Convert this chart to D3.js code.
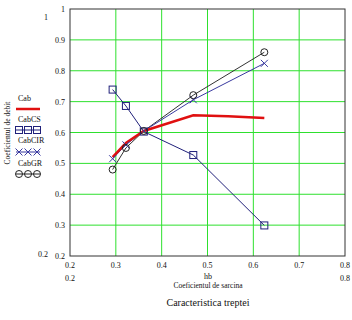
<!DOCTYPE html>
<html>
<head>
<meta charset="utf-8">
<script src="https://cdn.jsdelivr.net/npm/d3@7"></script>
<style>
  body { margin: 0; background: #fff; }
</style>
</head>
<body>
<div id="chart"></div>
<script>
// data
const hb = [0.293, 0.322, 0.361, 0.469, 0.545, 0.624];
const cab = [0.52, 0.566, 0.605, 0.656, 0.653, 0.647];
const hbPts = [0.293, 0.322, 0.361, 0.469, 0.624];
const cabCS = [0.739, 0.686, 0.603, 0.527, 0.299];
const cabCIR = [0.515, 0.56, 0.605, 0.706, 0.824];
const cabGR = [0.48, 0.55, 0.605, 0.721, 0.86];
const xTicks = [0.2, 0.3, 0.4, 0.5, 0.6, 0.7, 0.8];
const yTicks = [0.2, 0.3, 0.4, 0.5, 0.6, 0.7, 0.8, 0.9, 1];

const width = 352;
const height = 320;
const plot = { left: 70, right: 345, top: 9, bottom: 256 };
const serif = "'Liberation Serif', 'DejaVu Serif', serif";

const svg = d3.select("#chart")
  .append("svg")
  .attr("width", width)
  .attr("height", height)
  .attr("font-family", serif);

const x = d3.scaleLinear().domain([0.2, 0.8]).range([plot.left, plot.right]);
const y = d3.scaleLinear().domain([0.2, 1]).range([plot.bottom, plot.top]);

// little helper for the many text labels
function label(px, py, str, size, anchor) {
  return svg.append("text")
    .attr("x", px).attr("y", py)
    .attr("text-anchor", anchor || "start")
    .attr("font-size", size)
    .attr("font-family", serif)
    .attr("fill", "#111")
    .text(str);
}

// grid
svg.append("g")
  .selectAll("line")
  .data(xTicks.slice(1, -1))
  .enter().append("line")
  .attr("x1", d => x(d)).attr("x2", d => x(d))
  .attr("y1", plot.top).attr("y2", plot.bottom)
  .attr("stroke", "#2ee02e").attr("stroke-width", 1);

svg.append("g")
  .selectAll("line")
  .data(yTicks.slice(1, -1))
  .enter().append("line")
  .attr("x1", plot.left).attr("x2", plot.right)
  .attr("y1", d => y(d)).attr("y2", d => y(d))
  .attr("stroke", "#2ee02e").attr("stroke-width", 1);

// frame
svg.append("rect")
  .attr("x", plot.left).attr("y", plot.top)
  .attr("width", plot.right - plot.left).attr("height", plot.bottom - plot.top)
  .attr("fill", "none").attr("stroke", "#333").attr("stroke-width", 1);

// tick labels
yTicks.forEach(d => label(65, y(d) + 3, d === 1 ? "1" : d.toFixed(1), 8, "end"));
xTicks.forEach(d => label(x(d), 268, d.toFixed(1), 8, "middle"));

// axis limit labels
label(48, 20, "1", 8, "end");
label(48, y(0.2) + 1, "0.2", 8, "end");
label(x(0.2), 281, "0.2", 8, "middle");
label(x(0.8), 281, "0.8", 8, "middle");

// axis titles
label(208, 279, "hb", 8, "middle");
label(208, 288, "Coeficientul de sarcina", 7.5, "middle");
label(208, 306, "Caracteristica treptei", 10, "middle");
label(0, 0, "Coeficientul de debit", 7.5, "middle")
  .attr("transform", "translate(10,133) rotate(-90)");

// series lines
const line = d3.line().x(d => x(d[0])).y(d => y(d[1]));

svg.append("path")
  .datum(hbPts.map((h, i) => [h, cabGR[i]]))
  .attr("d", line).attr("fill", "none").attr("stroke", "#333").attr("stroke-width", 1);
svg.append("path")
  .datum(hbPts.map((h, i) => [h, cabCIR[i]]))
  .attr("d", line).attr("fill", "none").attr("stroke", "#3a3aa0").attr("stroke-width", 1);
svg.append("path")
  .datum(hbPts.map((h, i) => [h, cabCS[i]]))
  .attr("d", line).attr("fill", "none").attr("stroke", "#20207a").attr("stroke-width", 1);
svg.append("path")
  .datum(hb.map((h, i) => [h, cab[i]]))
  .attr("d", line).attr("fill", "none").attr("stroke", "#e01010").attr("stroke-width", 2.5);

// markers
const xMark = "M-3.5,-3.5L3.5,3.5M-3.5,3.5L3.5,-3.5";

svg.append("g").selectAll("rect")
  .data(hbPts.map((h, i) => [h, cabCS[i]]))
  .enter().append("rect")
  .attr("x", d => x(d[0]) - 3.5).attr("y", d => y(d[1]) - 3.5)
  .attr("width", 7).attr("height", 7)
  .attr("fill", "none").attr("stroke", "#20207a").attr("stroke-width", 1);

svg.append("g").selectAll("path")
  .data(hbPts.map((h, i) => [h, cabCIR[i]]))
  .enter().append("path")
  .attr("transform", d => `translate(${x(d[0])},${y(d[1])})`)
  .attr("d", xMark)
  .attr("fill", "none").attr("stroke", "#3a3aa0").attr("stroke-width", 1);

svg.append("g").selectAll("circle")
  .data(hbPts.map((h, i) => [h, cabGR[i]]))
  .enter().append("circle")
  .attr("cx", d => x(d[0])).attr("cy", d => y(d[1]))
  .attr("r", 3.5)
  .attr("fill", "none").attr("stroke", "#222").attr("stroke-width", 1);

// legend
const legend = svg.append("g");
const lx = [19, 28, 37];
label(18, 101, "Cab", 8);
legend.append("line").attr("x1", 16).attr("x2", 40).attr("y1", 109).attr("y2", 109)
  .attr("stroke", "#e01010").attr("stroke-width", 2.5);
label(18, 122, "CabCS", 8);
legend.append("line").attr("x1", 16).attr("x2", 40).attr("y1", 130).attr("y2", 130)
  .attr("stroke", "#20207a").attr("stroke-width", 1);
legend.selectAll(".lsq").data(lx).enter().append("rect")
  .attr("x", d => d - 3.5).attr("y", 126.5).attr("width", 7).attr("height", 7)
  .attr("fill", "none").attr("stroke", "#20207a");
label(18, 143, "CabCIR", 8);
legend.append("line").attr("x1", 16).attr("x2", 40).attr("y1", 152).attr("y2", 152)
  .attr("stroke", "#3a3aa0").attr("stroke-width", 1);
legend.selectAll(".lx").data(lx).enter().append("path")
  .attr("transform", d => `translate(${d},152)`)
  .attr("d", xMark)
  .attr("stroke", "#3a3aa0");
label(18, 166, "CabGR", 8);
legend.append("line").attr("x1", 16).attr("x2", 40).attr("y1", 174).attr("y2", 174)
  .attr("stroke", "#222").attr("stroke-width", 1);
legend.selectAll(".lc").data(lx).enter().append("circle")
  .attr("cx", d => d).attr("cy", 174).attr("r", 3.5)
  .attr("fill", "none").attr("stroke", "#222");
</script>
</body>
</html>
